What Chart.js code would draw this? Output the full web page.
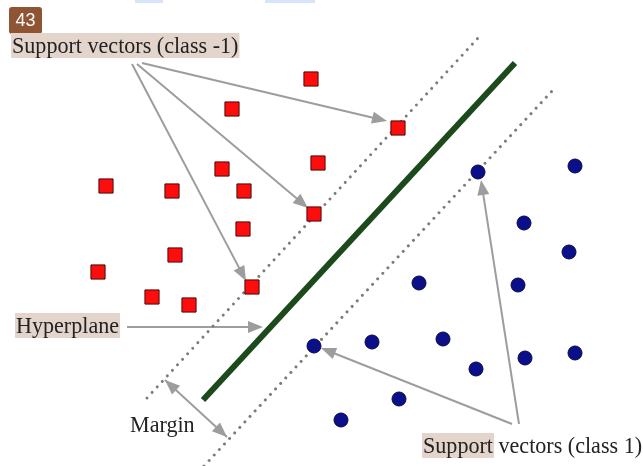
<!DOCTYPE html>
<html>
<head>
<meta charset="utf-8">
<script src="https://cdn.jsdelivr.net/npm/chart.js@4.4.1/dist/chart.umd.min.js"></script>
<style>
html, body { margin: 0; padding: 0; background: #fff; }
canvas { display: block; }
</style>
</head>
<body>
<canvas id="svm-chart" width="643" height="466"></canvas>
<script>
// class -1 (red squares) and class 1 (blue dots)
let classNegX = [311, 232, 398, 318, 222, 106, 172, 244, 314, 243, 175, 98, 252, 152, 189]
let classNegY = [79, 109, 128, 163, 169, 186, 191, 191, 214, 229, 255, 272, 287, 297, 305]
let classPosX = [478, 575, 524, 569, 419, 518, 314, 372, 443, 476, 525, 575, 399, 341]
let classPosY = [172, 166, 223, 252, 283, 285, 346, 342, 339, 369, 358, 353, 399, 420]

// separating line and the two margin lines (end points)
let hyperplaneX = [203, 515]
let hyperplaneY = [400, 63]
let marginUpX = [147, 478]
let marginUpY = [398, 38]
let marginLowX = [204, 552]
let marginLowY = [466, 91]

// annotation arrows: x1, y1, x2, y2 (head at the second point)
let arrows = [
    [142, 63, 387, 121],
    [137, 64, 308, 208],
    [132, 64, 246, 281],
    [127, 327, 263, 327],
    [512, 424, 321, 348],
    [519, 424, 481, 180]
]
let marginArrow = [165, 380, 227, 437]

const toPts = (xs, ys) => xs.map((x, i) => ({x: x, y: ys[i]}))

const serif = '22.1px "Liberation Serif", "DejaVu Serif", serif'
const boxColor = '#e4d5cc'
const arrowColor = '#9d9d9d'

function arrowHead(ctx, x1, y1, x2, y2) {
    let a = Math.atan2(y2 - y1, x2 - x1)
    let len = 15, w = 6
    ctx.beginPath()
    ctx.moveTo(x2, y2)
    ctx.lineTo(x2 - len * Math.cos(a) + w * Math.sin(a), y2 - len * Math.sin(a) - w * Math.cos(a))
    ctx.lineTo(x2 - len * Math.cos(a) - w * Math.sin(a), y2 - len * Math.sin(a) + w * Math.cos(a))
    ctx.closePath()
    ctx.fill()
}

const annotations = {
    id: 'annotations',
    beforeDatasetsDraw(chart) {
        let ctx = chart.ctx
        let sx = chart.scales.x, sy = chart.scales.y
        ctx.save()
        ctx.strokeStyle = arrowColor
        ctx.fillStyle = arrowColor
        ctx.lineWidth = 2
        arrows.forEach(a => {
            let x1 = sx.getPixelForValue(a[0]), y1 = sy.getPixelForValue(a[1])
            let x2 = sx.getPixelForValue(a[2]), y2 = sy.getPixelForValue(a[3])
            let ang = Math.atan2(y2 - y1, x2 - x1)
            ctx.beginPath()
            ctx.moveTo(x1, y1)
            ctx.lineTo(x2 - 10 * Math.cos(ang), y2 - 10 * Math.sin(ang))
            ctx.stroke()
            arrowHead(ctx, x1, y1, x2, y2)
        })
        let m = marginArrow
        let mx1 = sx.getPixelForValue(m[0]), my1 = sy.getPixelForValue(m[1])
        let mx2 = sx.getPixelForValue(m[2]), my2 = sy.getPixelForValue(m[3])
        ctx.beginPath()
        ctx.moveTo(mx1, my1)
        ctx.lineTo(mx2, my2)
        ctx.stroke()
        arrowHead(ctx, mx1, my1, mx2, my2)
        arrowHead(ctx, mx2, my2, mx1, my1)
        ctx.restore()
    },
    afterDraw(chart) {
        let ctx = chart.ctx
        ctx.save()
        // faint remnants at the very top
        ctx.fillStyle = '#d6e6f8'
        ctx.fillRect(135, 0, 28, 3)
        ctx.fillRect(265, 0, 50, 3)

        // slide number badge
        ctx.fillStyle = '#8e5434'
        ctx.beginPath()
        ctx.roundRect(9, 7, 33, 27, 3)
        ctx.fill()
        ctx.fillStyle = '#fff'
        ctx.font = '18px "Liberation Sans", Arial, sans-serif'
        ctx.textAlign = 'center'
        ctx.textBaseline = 'middle'
        ctx.fillText('43', 25.5, 21)

        ctx.font = serif
        ctx.textAlign = 'left'
        ctx.textBaseline = 'alphabetic'
        let label = (text, x, base, box) => {
            if (box) {
                let w = ctx.measureText(box === true ? text : box).width
                ctx.fillStyle = boxColor
                ctx.fillRect(x - 1, base - 20, w + 2, 25)
            }
            ctx.fillStyle = '#222'
            ctx.fillText(text, x, base)
        }
        label('Support vectors (class -1)', 12, 53, true)
        label('Hyperplane', 16, 333, true)
        label('Margin', 130, 432, false)
        label('Support vectors (class 1)', 423, 453, 'Support')
        ctx.restore()
    }
}

new Chart('svm-chart', {
    type: 'scatter',
    data: {
        datasets: [
            {
                data: toPts(hyperplaneX, hyperplaneY),
                showLine: true,
                borderColor: '#1d4a1c',
                borderWidth: 6,
                pointRadius: 0,
                order: 2
            },
            {
                data: toPts(marginUpX, marginUpY),
                showLine: true,
                borderColor: '#7c7c7c',
                borderWidth: 3,
                borderDash: [0.01, 7.5],
                borderCapStyle: 'round',
                pointRadius: 0,
                order: 3
            },
            {
                data: toPts(marginLowX, marginLowY),
                showLine: true,
                borderColor: '#7c7c7c',
                borderWidth: 3,
                borderDash: [0.01, 7.5],
                borderCapStyle: 'round',
                pointRadius: 0,
                order: 3
            },
            {
                data: toPts(classNegX, classNegY),
                pointStyle: 'rect',
                pointRadius: 10,
                backgroundColor: '#ff0c0c',
                borderColor: '#4a0a0a',
                borderWidth: 1,
                order: 0
            },
            {
                data: toPts(classPosX, classPosY),
                pointStyle: 'circle',
                pointRadius: 7,
                backgroundColor: '#0b0f8a',
                borderColor: '#06074a',
                borderWidth: 1,
                order: 0
            }
        ]
    },
    options: {
        responsive: false,
        animation: false,
        layout: {padding: 0, autoPadding: false},
        plugins: {
            legend: {display: false},
            tooltip: {enabled: false}
        },
        scales: {
            x: {type: 'linear', min: 0, max: 643, display: false},
            y: {type: 'linear', min: 0, max: 466, reverse: true, display: false}
        }
    },
    plugins: [annotations]
})
</script>
</body>
</html>
